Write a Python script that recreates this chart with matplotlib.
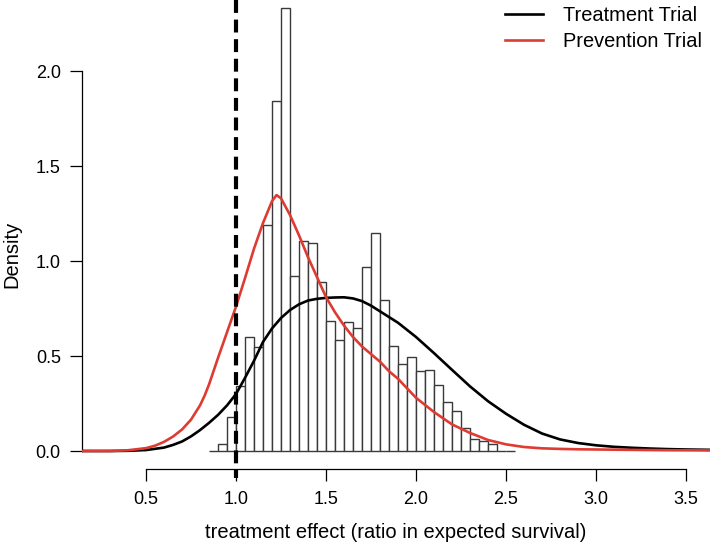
import matplotlib
matplotlib.use("Agg")
import matplotlib.pyplot as plt
import numpy as np

plt.rcParams['font.family'] = ['Liberation Sans', 'DejaVu Sans']

# histogram of simulated treatment effects (density scale, bin width 0.05)
hist_start = 0.85
hist_width = 0.05
hist_heights = [0.0, 0.037, 0.18, 0.34, 0.60, 0.55, 1.19, 1.84, 2.33, 0.92,
                1.107, 1.093, 0.89, 0.684, 0.584, 0.68, 0.65, 0.97, 1.15, 0.795,
                0.553, 0.46, 0.496, 0.42, 0.426, 0.347, 0.256, 0.209, 0.121, 0.062,
                0.053, 0.037, 0.0, 0.0]

# density curves
treat_x = [0.13, 0.3, 0.4, 0.5, 0.6, 0.65, 0.7, 0.75, 0.8, 0.85, 0.9, 0.95, 1.0,
           1.05, 1.1, 1.15, 1.2, 1.25, 1.3, 1.35, 1.4, 1.45, 1.5, 1.55, 1.6, 1.65,
           1.7, 1.75, 1.8, 1.9, 2.0, 2.1, 2.2, 2.3, 2.4, 2.5, 2.6, 2.7, 2.8, 2.9,
           3.0, 3.1, 3.2, 3.3, 3.4, 3.5, 3.65]
treat_y = [0.0, 0.0, 0.001, 0.005, 0.018, 0.032, 0.05, 0.077, 0.11, 0.148, 0.19,
           0.24, 0.30, 0.385, 0.475, 0.574, 0.645, 0.70, 0.742, 0.772, 0.792, 0.801,
           0.806, 0.808, 0.809, 0.803, 0.789, 0.765, 0.735, 0.675, 0.60, 0.515,
           0.427, 0.34, 0.262, 0.196, 0.138, 0.092, 0.061, 0.042, 0.030, 0.022,
           0.017, 0.013, 0.010, 0.008, 0.006]

prev_x = [0.13, 0.3, 0.4, 0.5, 0.55, 0.6, 0.65, 0.7, 0.75, 0.8, 0.825, 0.85, 0.875,
          0.9, 0.95, 1.0, 1.05, 1.1, 1.15, 1.2, 1.225, 1.25, 1.3, 1.35, 1.4, 1.45,
          1.5, 1.55, 1.6, 1.65, 1.7, 1.75, 1.8, 1.85, 1.9, 2.0, 2.1, 2.2, 2.3, 2.4,
          2.5, 2.6, 2.7, 2.8, 2.9, 3.0, 3.2, 3.4, 3.65]
prev_y = [0.0, 0.0, 0.004, 0.015, 0.028, 0.048, 0.076, 0.113, 0.165, 0.24, 0.29,
          0.35, 0.42, 0.49, 0.625, 0.76, 0.91, 1.065, 1.20, 1.315, 1.347, 1.33,
          1.242, 1.135, 1.02, 0.915, 0.81, 0.73, 0.66, 0.60, 0.55, 0.51, 0.47, 0.42,
          0.38, 0.28, 0.205, 0.14, 0.095, 0.058, 0.035, 0.021, 0.014, 0.011, 0.009,
          0.008, 0.006, 0.004, 0.003]

null_effect = 1.0
x_ticks = [0.5, 1.0, 1.5, 2.0, 2.5, 3.0, 3.5]
y_ticks = [0.0, 0.5, 1.0, 1.5, 2.0]

red = '#DE3B33'

fig = plt.figure(figsize=(7.10, 5.47), dpi=100)
ax = fig.add_axes([81.7 / 710, (547 - 469) / 547, (710 - 81.7) / 710, 469 / 547])

edges = hist_start + hist_width * np.arange(len(hist_heights))
ax.bar(edges, hist_heights, width=hist_width, align='edge', facecolor='white',
       edgecolor='#3a3a3a', linewidth=1.0, zorder=1)

ax.plot(treat_x, treat_y, color='black', lw=1.9, zorder=2, label='Treatment Trial',
        solid_joinstyle='round')
ax.plot(prev_x, prev_y, color=red, lw=1.9, zorder=3, label='Prevention Trial',
        solid_joinstyle='round')

ylo, yhi = -0.0947, 2.3737
dash, = ax.plot([null_effect, null_effect], [yhi, -0.142], color='black', lw=3.0,
                zorder=4, clip_on=False, dash_capstyle='butt')
dash.set_dashes((3.1, 1.6))

ax.set_xlim(0.1428, 3.633)
ax.set_ylim(ylo, yhi)

for s in ['top', 'right']:
    ax.spines[s].set_visible(False)
ax.spines['left'].set_bounds(0.0, 2.0)
ax.spines['bottom'].set_bounds(0.5, 3.5)
ax.spines['left'].set_linewidth(0.9)
ax.spines['bottom'].set_linewidth(0.9)

ax.set_xticks(x_ticks)
ax.set_xticklabels([f"{v:.1f}" for v in x_ticks])
ax.set_yticks(y_ticks)
ax.set_yticklabels([f"{v:.1f}" for v in y_ticks])
ax.tick_params(axis='both', direction='out', length=8.5, width=0.9,
               labelsize=13, pad=6.5)
ax.tick_params(axis='x', pad=7.5)

ax.set_xlabel("treatment effect (ratio in expected survival)", fontsize=14.5,
              labelpad=11)
ax.set_ylabel("Density", fontsize=14.5)
ax.yaxis.set_label_coords(-0.0966, 0.458)

ax.legend(loc='upper left', bbox_to_anchor=(505 / 710, 1 - 6 / 547),
          bbox_transform=fig.transFigure, frameon=False, fontsize=14.4,
          handlelength=1.9, handletextpad=1.0, borderpad=0, borderaxespad=0,
          labelspacing=0.33)

fig.savefig("out.png", dpi=100)
